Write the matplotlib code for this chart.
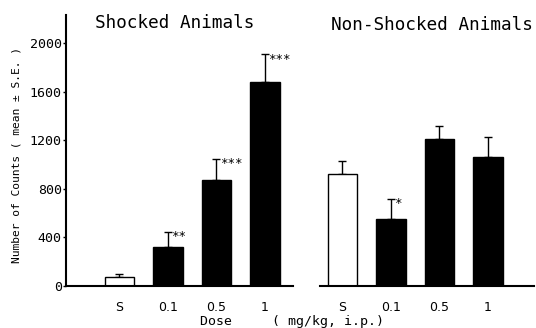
import numpy as np
import matplotlib
matplotlib.use("Agg")
import matplotlib.pyplot as plt

# dose groups and values
doses = ['S', '0.1', '0.5', '1']
shocked_mean = [70, 325, 870, 1680]
shocked_se = [25, 120, 175, 225]
shocked_sig = ['', '**', '***', '***']
nonshocked_mean = [920, 555, 1210, 1060]
nonshocked_se = [105, 160, 110, 165]
nonshocked_sig = ['', '*', '', '']

mono = 'DejaVu Sans Mono'

fig = plt.figure(figsize=(5.36, 3.28), dpi=100)
ax = fig.add_axes([66 / 536, 42 / 328, 467 / 536, 271 / 328])

x_left = np.arange(4)
x_right = np.arange(4) + 4.6
width = 0.61


def draw_group(xpos, mean, se, sig):
    colors = ['white'] + ['black'] * 3
    ax.bar(xpos, mean, width=width, color=colors, edgecolor='black',
           linewidth=1.0, zorder=2)
    ax.errorbar(xpos, mean, yerr=[np.zeros(len(se)), se], fmt='none',
                ecolor='black', elinewidth=1.0, capsize=2.6, capthick=1.0,
                zorder=1)
    for xi, m, e, s in zip(xpos, mean, se, sig):
        if s:
            ax.annotate(s, (xi, m + e), xytext=(2.5, -3.5),
                        textcoords='offset points', ha='left', va='center',
                        fontsize=9, family=mono)


draw_group(x_left, shocked_mean, shocked_se, shocked_sig)
draw_group(x_right, nonshocked_mean, nonshocked_se, nonshocked_sig)

# baselines of the two panels
ax.plot([-1.1, 3.58], [0, 0], color='black', lw=1.5, clip_on=False, zorder=3)
ax.plot([4.13, 8.55], [0, 0], color='black', lw=1.5, clip_on=False, zorder=3)

ax.set_xlim(-1.1, 8.53)
ax.set_ylim(0, 2230)
for sp in ['top', 'right', 'bottom']:
    ax.spines[sp].set_visible(False)
ax.spines['left'].set_linewidth(1.5)

ax.set_yticks([0, 400, 800, 1200, 1600, 2000])
ax.set_yticklabels(['0', '400', '800', '1200', '1600', '2000'],
                   fontsize=9.5, family=mono)
ax.tick_params(axis='y', length=2, width=1, pad=1)

ax.set_xticks(list(x_left) + list(x_right))
ax.set_xticklabels(doses + doses, fontsize=9)
ax.tick_params(axis='x', length=0, pad=11)

fig.text(174.5 / 536, 1 - 23 / 328, 'Shocked Animals', family=mono,
         fontsize=12.7, ha='center', va='center')
fig.text(432 / 536, 1 - 25 / 328, 'Non-Shocked Animals', family=mono,
         fontsize=12.7, ha='center', va='center')

fig.text(17 / 536, 1 - 155 / 328, 'Number of Counts ( mean \u00b1 S.E. )',
         family=mono, fontsize=8.1, rotation=90, ha='center', va='center')
fig.text(200 / 536, 1 - 322 / 328, 'Dose     ( mg/kg, i.p.)',
         family=mono, fontsize=9.5, ha='left', va='center')

fig.savefig('out.png', dpi=100)
